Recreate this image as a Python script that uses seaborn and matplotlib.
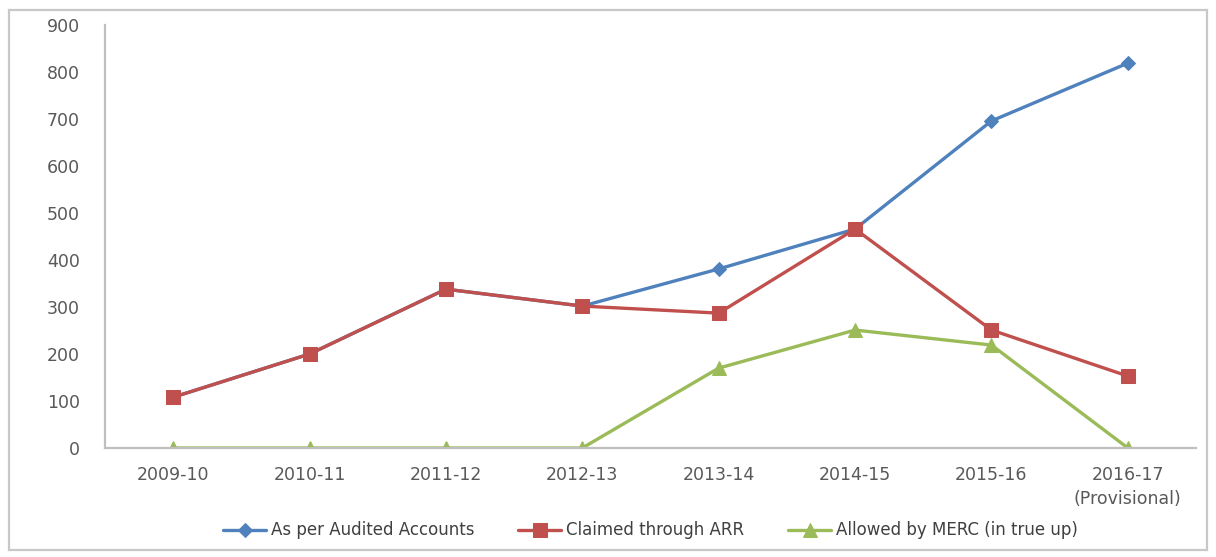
import matplotlib
matplotlib.use("Agg")
import matplotlib.pyplot as plt
import matplotlib.patches as mpatches
import numpy as np
import pandas as pd
import seaborn as sns

years = ["2009-10", "2010-11", "2011-12", "2012-13", "2013-14",
         "2014-15", "2015-16", "2016-17\n(Provisional)"]
audited = [108, 200, 338, 302, 381, 466, 696, 819]
claimed = [108, 200, 338, 302, 287, 466, 251, 153]
allowed = [0, 0, 0, 0, 170, 251, 219, 0]

series_names = ["As per Audited Accounts", "Claimed through ARR",
                "Allowed by MERC (in true up)"]
series_values = [audited, claimed, allowed]
colors = ["#4F81BD", "#C0504D", "#9BBB59"]
markers = ["D", "s", "^"]
msizes = [7, 10.5, 9.5]

sns.set_theme(style="white")
plt.rcParams["font.family"] = ["DejaVu Sans"]

fig = plt.figure(figsize=(12.16, 5.57), dpi=100)
ax = fig.add_axes([0.0863, 0.1957, 0.8973, 0.7593])

x = np.arange(len(years))
for name, vals, c, m, ms in zip(series_names, series_values, colors, markers, msizes):
    df = pd.DataFrame({"x": x, "y": vals})
    sns.lineplot(data=df, x="x", y="y", ax=ax, color=c, linewidth=2.4,
                 marker=m, markersize=ms, markeredgecolor=c, label=name)

ax.set_xlim(-0.5, len(years) - 0.5)
ax.set_ylim(0, 900)
ax.set_yticks(range(0, 901, 100))
ax.set_xticks(x)
ax.set_xticklabels(years, linespacing=1.45)
ax.set_xlabel("")
ax.set_ylabel("")
ax.tick_params(axis="both", labelsize=12.5, colors="#595959", length=0)
ax.tick_params(axis="x", pad=13)
ax.tick_params(axis="y", pad=18)
for s in ["top", "right"]:
    ax.spines[s].set_visible(False)
for s in ["left", "bottom"]:
    ax.spines[s].set_color("#BFBFBF")
    ax.spines[s].set_linewidth(1.6)

ax.legend(loc="center", bbox_to_anchor=(0.5, -0.195), ncol=3, frameon=False,
          fontsize=12, labelcolor="#404040", handlelength=2.6, columnspacing=2.6,
          handletextpad=0.3)

# outer chart border
fig.patches.append(mpatches.Rectangle((0.007, 0.012), 0.986, 0.97,
                                      transform=fig.transFigure, fill=False,
                                      edgecolor="#C8C8C8", linewidth=1.6))

fig.savefig("out.png", dpi=100)
